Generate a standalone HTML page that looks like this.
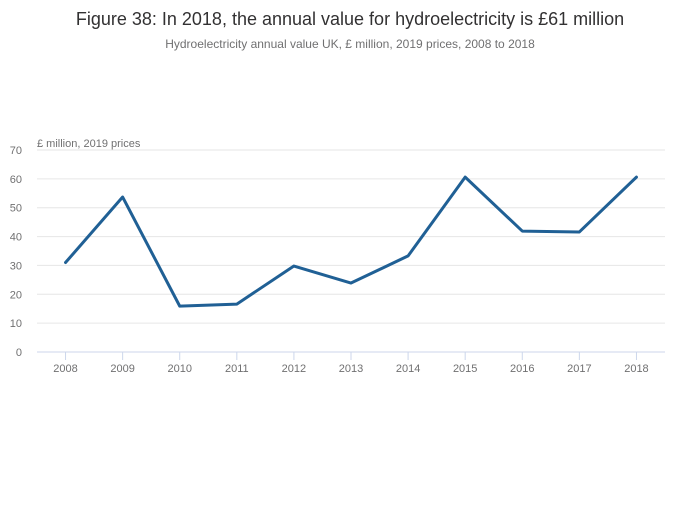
<!DOCTYPE html>
<html><head><meta charset="utf-8"><style>
body{margin:0;background:#fff;font-family:"Liberation Sans",sans-serif}
</style></head><body>
<svg id="chart" width="700" height="502" xmlns="http://www.w3.org/2000/svg">
<text x="350" y="25" text-anchor="middle" font-size="18" fill="#323132">Figure 38: In 2018, the annual value for hydroelectricity is £61 million</text>
<text x="350" y="48" text-anchor="middle" font-size="12" fill="#707071">Hydroelectricity annual value UK, £ million, 2019 prices, 2008 to 2018</text>
<text x="37" y="147" font-size="11" fill="#707071">£ million, 2019 prices</text>
<g id="grid"></g><g id="xt"></g><g id="series"></g>
</svg>
<script>
const categories=["2008","2009","2010","2011","2012","2013","2014","2015","2016","2017","2018"];
const values=[31,53.7,15.9,16.6,29.8,23.9,33.3,60.6,41.9,41.6,60.6];
const yTicks=[0,10,20,30,40,50,60,70];
const ns="http://www.w3.org/2000/svg";
const x0=37,x1=665,y0=352,yTop=150,yMax=70;
const step=(x1-x0)/categories.length;
const xs=i=>x0+step*(i+0.5);
const ys=v=>y0-(v/yMax)*(y0-yTop);
function mk(t,a,p){const e=document.createElementNS(ns,t);for(const k in a)e.setAttribute(k,a[k]);p.appendChild(e);return e;}
const g=document.getElementById('grid');
yTicks.forEach(v=>{
 const l=mk('line',{x1:x0,x2:x1,y1:ys(v),y2:ys(v),stroke:v===0?'#ccd6eb':'#e6e6e6','stroke-width':1},g);
 
 
 const t=mk('text',{x:22,y:ys(v)+4,'text-anchor':'end','font-size':11,fill:'#707071'},g);
 t.textContent=v;
 
 
});
const xt=document.getElementById('xt');
categories.forEach((c,i)=>{
 const l=mk('line',{x1:xs(i),x2:xs(i),y1:y0,y2:y0+8,stroke:'#ccd6eb'},xt);
 
 
 const t=mk('text',{x:xs(i),y:372,'text-anchor':'middle','font-size':11,fill:'#707071'},xt);
 t.textContent=c;
 
 
});
const s=document.getElementById('series');
const p=mk('path',{d:values.map((v,i)=>(i?'L':'M')+xs(i)+' '+ys(v)).join(' '),fill:'none',stroke:'#206095','stroke-width':3,'stroke-linejoin':'round','stroke-linecap':'round'},s);


</script>
</body></html>
